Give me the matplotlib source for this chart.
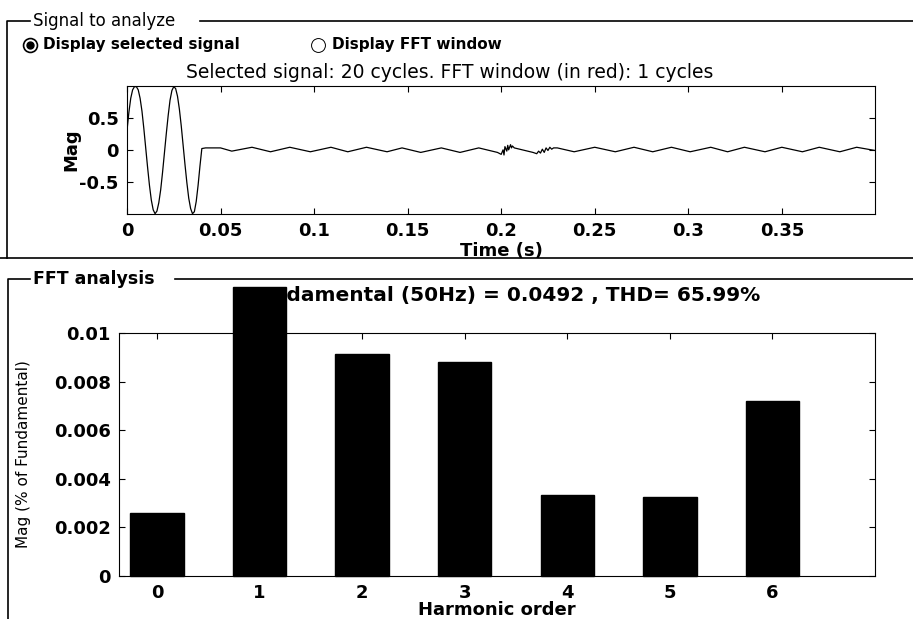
import numpy as np
import matplotlib.pyplot as plt
from matplotlib.lines import Line2D

# ---------------- data ----------------
# first two cycles of the selected signal, read every 1 ms
t_start = np.arange(0, 0.0405, 0.001)
v_start = [0.30, 0.58, 0.80, 0.93, 0.98, 0.98, 0.93, 0.80, 0.60, 0.33,
           0.03, -0.27, -0.55, -0.78, -0.93, -0.99, -0.95, -0.82, -0.62, -0.35,
           -0.05, 0.25, 0.53, 0.77, 0.92, 0.98, 0.95, 0.83, 0.63, 0.37,
           0.07, -0.23, -0.51, -0.75, -0.91, -0.99, -0.96, -0.80, -0.55, -0.25,
           0.02]

# small ripple after the step (peaks / troughs and the two noise bursts)
t_ripple = [0.042, 0.050, 0.056, 0.0668, 0.0767, 0.087, 0.098, 0.109, 0.118,
            0.128, 0.139, 0.147, 0.157, 0.168, 0.178, 0.188, 0.198,
            0.200, 0.201, 0.2015, 0.202, 0.203, 0.2035, 0.204, 0.205, 0.2055,
            0.206, 0.207, 0.217,
            0.219, 0.220, 0.221, 0.222, 0.223, 0.224, 0.225, 0.226, 0.227,
            0.228, 0.230, 0.239, 0.250, 0.261, 0.271, 0.281, 0.291, 0.301,
            0.312, 0.321, 0.330, 0.341, 0.350, 0.361, 0.370, 0.381, 0.390,
            0.3998]
v_ripple = [0.03, 0.03, -0.02, 0.04, -0.03, 0.04, -0.03, 0.04, -0.03,
            0.04, -0.03, 0.03, -0.04, 0.03, -0.04, 0.03, -0.04,
            -0.07, 0.00, -0.08, 0.05, -0.02, 0.07, 0.00, 0.08, 0.03,
            0.06, 0.03, -0.04,
            -0.06, -0.02, -0.05, 0.01, -0.04, 0.03, -0.01, 0.04, 0.01,
            0.03, 0.03, -0.03, 0.04, -0.03, 0.04, -0.03, 0.04, -0.03,
            0.04, -0.03, 0.04, -0.03, 0.04, -0.03, 0.04, -0.03, 0.04,
            -0.01]

time_ticks = [0, 0.05, 0.1, 0.15, 0.2, 0.25, 0.3, 0.35]
time_labels = ['0', '0.05', '0.1', '0.15', '0.2', '0.25', '0.3', '0.35']
mag_ticks = [-0.5, 0, 0.5]
mag_labels = ['-0.5', '0', '0.5']

harmonic_order = [0, 1, 2, 3, 4, 5, 6]
harmonic_mag = [0.00259, 0.01189, 0.00914, 0.00880, 0.00332, 0.00326, 0.00719]
fft_yticks = [0, 0.002, 0.004, 0.006, 0.008, 0.01]
fft_ylabels = ['0', '0.002', '0.004', '0.006', '0.008', '0.01']

# ---------------- figure ----------------
W, H = 913, 619
fig = plt.figure(figsize=(W / 100, H / 100), dpi=100)
fig.patch.set_facecolor('white')

def fx(x):
    return x / W

def fy(y):
    return 1 - y / H

tickfont = dict(family='DejaVu Sans', weight='bold', size=13)

def frame_line(xs, ys):
    fig.add_artist(Line2D([fx(x) for x in xs], [fy(y) for y in ys],
                          transform=fig.transFigure, color='black', lw=1.2))

# group boxes
frame_line([7, 7, 30], [258, 21, 21])
frame_line([200, 913], [21, 21])
frame_line([0, 913], [258, 258])
frame_line([8, 8, 30], [619, 279, 279])
frame_line([175, 913], [279, 279])
fig.text(fx(33), fy(21), 'Signal to analyze', fontsize=12, va='center', ha='left')
fig.text(fx(33), fy(279), 'FFT analysis', fontsize=12.5, fontweight='bold',
         va='center', ha='left')

# radio buttons
fig.add_artist(Line2D([fx(30)], [fy(45)], transform=fig.transFigure, marker='o',
                      ms=10, mfc='white', mec='black', mew=1.2))
fig.add_artist(Line2D([fx(30)], [fy(45)], transform=fig.transFigure, marker='o',
                      ms=5, mfc='black', mec='black'))
fig.add_artist(Line2D([fx(318)], [fy(45)], transform=fig.transFigure, marker='o',
                      ms=10, mfc='white', mec='black', mew=0.7))
fig.text(fx(43), fy(45), 'Display selected signal', fontsize=11, fontweight='bold',
         va='center', ha='left')
fig.text(fx(332), fy(45), 'Display FFT window', fontsize=11, fontweight='bold',
         va='center', ha='left')
fig.text(fx(450), fy(73), 'Selected signal: 20 cycles. FFT window (in red): 1 cycles',
         fontsize=13.5, va='center', ha='center')

# ---- selected signal ----
ax1 = fig.add_axes([fx(127), fy(214), (875 - 127) / W, (214 - 86) / H])
t_sig = np.concatenate([t_start, t_ripple])
v_sig = np.concatenate([v_start, v_ripple])
ax1.plot(t_sig, v_sig, color='black', lw=0.9)
ax1.set_xlim(0, 0.3998)
ax1.set_ylim(-0.995, 0.99)
ax1.set_xticks(time_ticks)
ax1.set_xticklabels(time_labels, fontdict=tickfont)
ax1.set_yticks(mag_ticks)
ax1.set_yticklabels(mag_labels, fontdict=tickfont)
ax1.tick_params(direction='in', top=True, right=True, length=4, width=0.8, pad=6)
ax1.set_xlabel('Time (s)', fontdict=tickfont, labelpad=1)
ax1.set_ylabel('Mag', fontdict=tickfont)
ax1.yaxis.set_label_coords((80 - 127) / 748, 0.5)

# ---- FFT bars ----
ax2 = fig.add_axes([fx(119), fy(576), (875 - 119) / W, (576 - 333) / H])
ax2.bar(harmonic_order, harmonic_mag, width=0.52, color='black', edgecolor='black',
        clip_on=False, zorder=5)
ax2.set_xlim(-0.37, 7.0)
ax2.set_ylim(0, 0.01)
ax2.set_xticks(harmonic_order)
ax2.set_xticklabels([str(h) for h in harmonic_order], fontdict=tickfont)
ax2.set_yticks(fft_yticks)
ax2.set_yticklabels(fft_ylabels, fontdict=tickfont)
ax2.tick_params(direction='in', top=True, right=True, length=4, width=0.8, pad=6)
ax2.set_xlabel('Harmonic order', fontdict=tickfont, labelpad=-1)
ax2.set_ylabel('Mag (% of Fundamental)', family='DejaVu Sans', size=11)
ax2.yaxis.set_label_coords((31 - 119) / 756, 0.5)
ax2.set_title('Fundamental (50Hz) = 0.0492 , THD= 65.99%', family='DejaVu Sans',
              weight='bold', size=14.5, pad=23, x=0.507)

fig.savefig('out.png', dpi=100)
